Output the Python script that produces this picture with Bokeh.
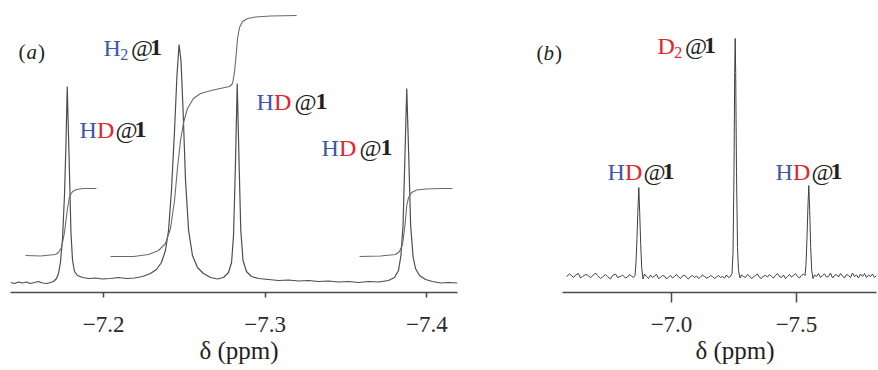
from bokeh.plotting import figure
from bokeh.layouts import row
from bokeh.models import Range1d, FixedTicker, CustomJSTickFormatter, Label, Title
from bokeh.embed import file_html
from bokeh.resources import INLINE

# ---------------- Panel (a): 1H spectrum (ppm, intensity a.u.) ----------------
a_ppm = [-7.1424, -7.1449, -7.1474, -7.1498, -7.1523, -7.1548, -7.1573, -7.1597, -7.1622, -7.1647,
         -7.1672, -7.1690, -7.1709, -7.1721, -7.1733, -7.1746, -7.1758, -7.1767, -7.1775, -7.1783,
         -7.1791, -7.1798, -7.1808, -7.1820, -7.1839, -7.1870, -7.1907, -7.1950, -7.1993, -7.2043,
         -7.2092, -7.2142, -7.2191, -7.2241, -7.2290, -7.2327, -7.2358, -7.2383, -7.2402, -7.2420,
         -7.2439, -7.2454, -7.2467, -7.2479, -7.2492, -7.2507, -7.2526, -7.2550, -7.2581, -7.2618,
         -7.2662, -7.2705, -7.2742, -7.2773, -7.2792, -7.2804, -7.2815, -7.2827, -7.2838, -7.2849,
         -7.2863, -7.2884, -7.2915, -7.2959, -7.3020, -7.3082, -7.3144, -7.3206, -7.3268, -7.3330,
         -7.3392, -7.3454, -7.3515, -7.3577, -7.3639, -7.3701, -7.3763, -7.3800, -7.3825, -7.3840,
         -7.3853, -7.3864, -7.3876, -7.3889, -7.3900, -7.3915, -7.3930, -7.3955, -7.3992, -7.4035,
         -7.4085, -7.4134, -7.4190]
a_int = [10, 9, 10.5, 9.5, 10.5, 9, 10, 11, 9.5, 9,
         10, 11, 14, 19, 30, 54, 97, 147, 206, 157,
         107, 60, 32, 21, 17, 15, 14, 14.5, 13.5, 14,
         15, 14, 14.5, 16, 19, 23, 30, 42, 62, 102,
         162, 217, 248, 232, 182, 112, 62, 37, 25, 19,
         15, 13.5, 15, 20, 30, 57, 122, 209, 132, 62,
         32, 21, 16, 14, 13, 12, 12.5, 11.5, 12, 11,
         11.5, 10.5, 11, 10, 11, 10.5, 12, 15, 22, 37,
         67, 132, 204, 132, 67, 36, 24, 17, 13, 11,
         9.5, 10, 9.5]

# integral traces
int1_ppm = [-7.1517, -7.1610, -7.1702, -7.1721, -7.1740, -7.1758, -7.1775, -7.1789, -7.1808, -7.1832, -7.1876, -7.1956]
int1_val = [37, 36.5, 38, 40, 45, 60, 82, 96, 101, 103, 104, 104]
int2_ppm = [-7.2043, -7.2185, -7.2278, -7.2340, -7.2383, -7.2414, -7.2439, -7.2457, -7.2476, -7.2495,
            -7.2519, -7.2556, -7.2600, -7.2643, -7.2693, -7.2736, -7.2780, -7.2798, -7.2810, -7.2820,
            -7.2829, -7.2841, -7.2860, -7.2891, -7.2940, -7.3033, -7.3194]
int2_val = [36, 36, 38, 42, 49, 64, 92, 124, 152, 170,
            184, 194, 199, 201, 203, 204.5, 206, 209, 220, 237,
            254, 265, 271, 274, 275.5, 276.5, 277]
int3_ppm = [-7.3584, -7.3714, -7.3806, -7.3831, -7.3850, -7.3865, -7.3876, -7.3887, -7.3906, -7.3937, -7.3993, -7.4085, -7.4159]
int3_val = [36, 36.5, 38, 41, 48, 67, 87, 95, 100, 102.5, 103.5, 104, 104]

a_ticks = [-7.2, -7.3, -7.4]

# ---------------- Panel (b): 2H spectrum ----------------
b_ppm = [-6.580, -6.592, -6.600, -6.608, -6.616, -6.628, -6.636, -6.644, -6.656, -6.664,
         -6.676, -6.684, -6.696, -6.704, -6.716, -6.724, -6.736, -6.744, -6.756, -6.764,
         -6.776, -6.784, -6.796, -6.804, -6.816, -6.824, -6.832, -6.840, -6.848, -6.854,
         -6.858, -6.862, -6.866, -6.8692, -6.8728, -6.8768, -6.8808, -6.886, -6.892, -6.900,
         -6.908, -6.916, -6.924, -6.932, -6.940, -6.948, -6.956, -6.964, -6.972, -6.980,
         -6.988, -6.996, -7.004, -7.012, -7.020, -7.028, -7.036, -7.044, -7.052, -7.060,
         -7.068, -7.076, -7.084, -7.092, -7.100, -7.108, -7.116, -7.124, -7.132, -7.140,
         -7.148, -7.156, -7.164, -7.172, -7.180, -7.188, -7.196, -7.204, -7.212, -7.220,
         -7.228, -7.236, -7.242, -7.246, -7.250, -7.2528, -7.2548, -7.2568, -7.260, -7.264,
         -7.268, -7.274, -7.280, -7.288, -7.296, -7.304, -7.312, -7.320, -7.328, -7.336,
         -7.344, -7.352, -7.360, -7.368, -7.376, -7.384, -7.392, -7.400, -7.408, -7.416,
         -7.424, -7.432, -7.440, -7.448, -7.456, -7.464, -7.472, -7.480, -7.488, -7.496,
         -7.504, -7.512, -7.520, -7.528, -7.534, -7.538, -7.542, -7.546, -7.5492, -7.5528,
         -7.5568, -7.5608, -7.566, -7.572, -7.580, -7.588, -7.596, -7.604, -7.612, -7.620,
         -7.628, -7.636, -7.644, -7.652, -7.660, -7.668, -7.676, -7.684, -7.692, -7.700,
         -7.708, -7.716, -7.724, -7.732, -7.740, -7.748, -7.756, -7.764, -7.772, -7.780,
         -7.788, -7.796, -7.804, -7.812, -7.820]
b_int = [16, 18.5, 17, 15, 17.5, 19, 14.5, 16, 18, 17.5,
         15, 16.5, 19.5, 17, 14, 15.5, 18, 16, 13.5, 17,
         18.5, 15, 16, 17.5, 14.5, 15.5, 18, 16.5, 15, 17,
         30, 55, 85, 105, 80, 48, 25, 13.5, 18.5, 16,
         14, 17.5, 15, 16.5, 18, 14, 15, 17, 16.5, 13.5,
         15.5, 17, 14.5, 16, 18, 15.5, 14, 16.5, 17.5, 15,
         13.5, 16, 17, 15, 16.5, 14, 15.5, 17.5, 16, 14.5,
         15, 17, 16, 14, 15.5, 17, 15, 16, 14.5, 17.5,
         15, 16, 19, 40, 120, 220, 254, 220, 120, 45,
         22, 14.5, 17.5, 16, 15, 18, 16.5, 14, 15.5, 17,
         18.5, 15, 14, 16.5, 17, 15.5, 18, 16, 14.5, 17,
         19, 16, 15, 17.5, 14, 16, 18, 15.5, 17, 19,
         16, 14.5, 17, 18.5, 17, 28, 55, 88, 107, 82,
         45, 22, 14, 17.5, 16, 19, 15, 17, 18.5, 15.5,
         16, 19.5, 14.5, 17, 18, 15.5, 19, 16.5, 14.5, 18,
         17, 15, 19.5, 16, 17.5, 14.5, 18.5, 16, 19, 15,
         17.5, 16, 18.5, 15, 17]

b_ticks = [-7.0, -7.5]

SERIF = "'Liberation Serif', 'Times New Roman', Times, serif"
BLUE = "#3d58a8"
RED = "#e5242b"
DARK = "#231f20"
LINE = "#4d4d4d"

minus_fmt = CustomJSTickFormatter(code="return '\u2212' + Math.abs(tick).toFixed(1);")


def make_fig(width, xr, ticks, bounds, left, right, tick_out, standoff):
    p = figure(width=width, height=370, x_range=xr, y_range=Range1d(0, 282),
               output_backend="svg", toolbar_location=None, y_axis_location=None,
               min_border_left=left, min_border_right=right, min_border_top=10,
               min_border_bottom=78)
    p.outline_line_color = None
    p.grid.visible = False
    p.background_fill_color = "white"
    p.border_fill_color = "white"
    ax = p.xaxis[0]
    ax.ticker = FixedTicker(ticks=ticks)
    ax.formatter = minus_fmt
    ax.bounds = bounds
    ax.axis_line_color = "#4a4a4a"
    ax.axis_line_width = 1.5
    ax.major_tick_line_color = "#4a4a4a"
    ax.major_tick_line_width = 1.5
    ax.major_tick_out = tick_out
    ax.major_tick_in = 0
    ax.minor_tick_line_color = None
    ax.major_label_text_font = SERIF
    ax.major_label_text_font_size = "23px"
    ax.major_label_text_color = "#2a2a2a"
    ax.major_label_standoff = standoff
    return p


def rich(p, x, y, pieces):
    # pieces: (text, color, size, style, dx, dy)
    for text, color, size, style, dx, dy in pieces:
        p.add_layout(Label(x=x, y=y + dy, text=text, text_font=SERIF,
                           text_font_size=size, text_color=color,
                           text_font_style=style, x_offset=dx,
                           text_baseline="alphabetic", text_align="left"))


def hd(p, x, y, gap=0):
    rich(p, x, y, [("H", BLUE, "24px", "normal", 0, 0),
                   ("D", RED, "24px", "normal", 17.5, 0),
                   ("@", DARK, "24px", "normal", 36 + gap * 0.5, 0),
                   ("1", DARK, "24px", "bold", 55 + gap, 0)])


def xlabel(p, offset):
    p.add_layout(Title(text="\u03b4 (ppm)", text_font=SERIF, text_font_size="25px",
                       text_font_style="normal", text_color=DARK, align="left",
                       offset=offset, standoff=0), "below")


# ---- panel (a)
pa = make_fig(500, Range1d(-7.1424, -7.419), a_ticks, (-7.419, -7.1424), 10, 43, 5, 19)
pa.line(a_ppm, a_int, line_color=LINE, line_width=1.2)
pa.line(int1_ppm, int1_val, line_color="#6a6a6a", line_width=1.1)
pa.line(int2_ppm, int2_val, line_color="#6a6a6a", line_width=1.1)
pa.line(int3_ppm, int3_val, line_color="#6a6a6a", line_width=1.1)

rich(pa, -7.1474, 241, [("(", DARK, "21px", "normal", 0, 0),
                         ("a", DARK, "21px", "italic", 8, 0),
                         (")", DARK, "21px", "normal", 19.5, 0)])
rich(pa, -7.2000, 245, [("H", BLUE, "24px", "normal", 0, 0),
                         ("2", BLUE, "16px", "normal", 16.7, -7),
                         ("@", DARK, "24px", "normal", 27.5, 0),
                         ("1", DARK, "24px", "bold", 46.5, 0)])
hd(pa, -7.1851, 163)
hd(pa, -7.2946, 191, gap=4)
hd(pa, -7.3348, 145, gap=4)
xlabel(pa, 189)

# ---- panel (b): frame reaches further left so that the "(b)" tag fits
pb = make_fig(378, Range1d(-6.428, -7.820), b_ticks, (-7.820, -6.564), 28, 2, 10, 14)
pb.line(b_ppm, b_int, line_color="#3f3f3f", line_width=1.0)

rich(pb, -6.460, 240, [("(", DARK, "21px", "normal", 0, 0),
                        ("b", DARK, "21px", "italic", 7, 0),
                        (")", DARK, "21px", "normal", 18.5, 0)])
rich(pb, -6.944, 247, [("D", RED, "24px", "normal", 0, 0),
                        ("2", RED, "16px", "normal", 16.7, -7),
                        ("@", DARK, "24px", "normal", 27.5, 0),
                        ("1", DARK, "24px", "bold", 46.5, 0)])
hd(pb, -6.744, 121)
hd(pb, -7.416, 121)
xlabel(pb, 167)

layout = row(pa, pb)
open("out.html", "w").write(file_html(layout, INLINE))
